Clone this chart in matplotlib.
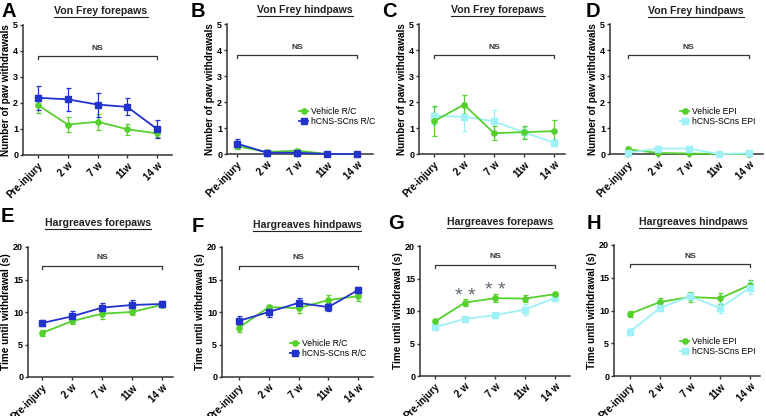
import numpy as np
import matplotlib
matplotlib.use('Agg')
import matplotlib.pyplot as plt
from matplotlib.lines import Line2D

plt.rcParams['font.family'] = ['Liberation Sans', 'DejaVu Sans']

W, H = 766, 416
fig = plt.figure(figsize=(W / 100, H / 100), dpi=100)

weeks = ["Pre-injury", "2 w", "7 w", "11w", "14 w"]

# Von Frey, R/C
vf_fore_rc_veh = [1.92, 1.17, 1.28, 0.99, 0.83]
vf_fore_rc_veh_err = [0.30, 0.29, 0.31, 0.22, 0.15]
vf_fore_rc_cell = [2.20, 2.14, 1.94, 1.85, 1.00]
vf_fore_rc_cell_err = [0.45, 0.43, 0.46, 0.33, 0.33]
vf_hind_rc_veh = [0.30, 0.08, 0.13, 0.0, 0.0]
vf_hind_rc_veh_err = [0.10, 0.05, 0.06, 0.0, 0.0]
vf_hind_rc_cell = [0.40, 0.05, 0.05, 0.0, 0.0]
vf_hind_rc_cell_err = [0.16, 0.04, 0.04, 0.0, 0.0]
# Von Frey, EPI
vf_fore_epi_veh = [1.26, 1.90, 0.80, 0.84, 0.88]
vf_fore_epi_veh_err = [0.57, 0.38, 0.28, 0.25, 0.43]
vf_fore_epi_cell = [1.47, 1.43, 1.26, 0.83, 0.44]
vf_fore_epi_cell_err = [0.35, 0.54, 0.42, 0.20, 0.12]
vf_hind_epi_veh = [0.18, 0.04, 0.02, 0.0, 0.0]
vf_hind_epi_veh_err = [0.08, 0.03, 0.02, 0.0, 0.0]
vf_hind_epi_cell = [0.05, 0.21, 0.21, 0.0, 0.03]
vf_hind_epi_cell_err = [0.05, 0.10, 0.10, 0.0, 0.03]
# Hargreaves, R/C
hg_fore_rc_veh = [6.77, 8.60, 9.74, 10.00, 11.10]
hg_fore_rc_veh_err = [0.4, 0.4, 0.8, 0.5, 0.4]
hg_fore_rc_cell = [8.30, 9.33, 10.67, 11.08, 11.23]
hg_fore_rc_cell_err = [0.5, 0.8, 0.7, 0.8, 0.5]
hg_hind_rc_veh = [7.60, 10.75, 10.60, 11.83, 12.44]
hg_hind_rc_veh_err = [0.6, 0.4, 0.7, 0.8, 0.7]
hg_hind_rc_cell = [8.64, 10.00, 11.40, 10.75, 13.37]
hg_hind_rc_cell_err = [0.7, 0.8, 0.8, 0.6, 0.5]
# Hargreaves, EPI
hg_fore_epi_veh = [8.39, 11.30, 11.97, 11.92, 12.58]
hg_fore_epi_veh_err = [0.3, 0.5, 0.6, 0.6, 0.4]
hg_fore_epi_cell = [7.52, 8.80, 9.36, 10.23, 12.00]
hg_fore_epi_cell_err = [0.3, 0.35, 0.3, 0.9, 0.4]
hg_hind_epi_veh = [9.50, 11.30, 12.06, 11.86, 13.90]
hg_hind_epi_veh_err = [0.5, 0.6, 0.7, 0.8, 0.8]
hg_hind_epi_cell = [6.77, 10.38, 12.16, 10.38, 13.50]
hg_hind_epi_cell_err = [0.5, 0.4, 0.5, 0.8, 1.0]

green, blue, cyan = "#55d02c", "#2233cc", "#9ff0f7"
dark = "#333333"

# pixel geometry: axis left, axis right, top, bottom, first tick, last tick
panels = [
    ("A", "Von Frey forepaws", (23, 172, 25, 155, 38, 157), 5,
     [(vf_fore_rc_veh, vf_fore_rc_veh_err, green, "o", "Vehicle R/C"),
      (vf_fore_rc_cell, vf_fore_rc_cell_err, blue, "s", "hCNS-SCns R/C")], None),
    ("B", "Von Frey hindpaws", (227, 373, 24, 154, 237, 357), 5,
     [(vf_hind_rc_veh, vf_hind_rc_veh_err, green, "o", "Vehicle R/C"),
      (vf_hind_rc_cell, vf_hind_rc_cell_err, blue, "s", "hCNS-SCns R/C")], (299, 107)),
    ("C", "Von Frey forepaws", (419, 565, 24, 154, 434, 554), 5,
     [(vf_fore_epi_cell, vf_fore_epi_cell_err, cyan, "s", "hCNS-SCns EPI"),
      (vf_fore_epi_veh, vf_fore_epi_veh_err, green, "o", "Vehicle EPI")], None),
    ("D", "Von Frey hindpaws", (610, 763, 24, 154, 628, 749), 5,
     [(vf_hind_epi_veh, vf_hind_epi_veh_err, green, "o", "Vehicle EPI"),
      (vf_hind_epi_cell, vf_hind_epi_cell_err, cyan, "s", "hCNS-SCns EPI")], (680, 107)),
    ("E", "Hargreaves forepaws", (28, 173, 247, 377, 42, 162), 20,
     [(hg_fore_rc_veh, hg_fore_rc_veh_err, green, "o", "Vehicle R/C"),
      (hg_fore_rc_cell, hg_fore_rc_cell_err, blue, "s", "hCNS-SCns R/C")], None),
    ("F", "Hargreaves hindpaws", (222, 373, 247, 377, 239, 358), 20,
     [(hg_hind_rc_veh, hg_hind_rc_veh_err, green, "o", "Vehicle R/C"),
      (hg_hind_rc_cell, hg_hind_rc_cell_err, blue, "s", "hCNS-SCns R/C")], (290, 339)),
    ("G", "Hargreaves forepaws", (420, 570, 246, 376, 435, 555), 20,
     [(hg_fore_epi_cell, hg_fore_epi_cell_err, cyan, "s", "hCNS-SCns EPI"),
      (hg_fore_epi_veh, hg_fore_epi_veh_err, green, "o", "Vehicle EPI")], None),
    ("H", "Hargreaves hindpaws", (614, 760, 245, 376, 630, 750), 20,
     [(hg_hind_epi_veh, hg_hind_epi_veh_err, green, "o", "Vehicle EPI"),
      (hg_hind_epi_cell, hg_hind_epi_cell_err, cyan, "s", "hCNS-SCns EPI")], (680, 337)),
]

letter_pos = {"A": (1, 2), "B": (191, 2), "C": (382, 2), "D": (586, 2),
              "E": (1, 207), "F": (192, 217), "G": (388, 214), "H": (587, 214)}
title_pos = {"A": (101, 11), "B": (305, 10), "C": (498, 10), "D": (696, 11),
             "E": (98, 223), "F": (307, 225), "G": (500, 222), "H": (693, 222)}

renderer = fig.canvas.get_renderer()
x = np.arange(len(weeks))
for letter, title, (xl, xr, yt, yb, p0, p4), ymax, series, legpos in panels:
    ax = fig.add_axes([xl / W, 1 - yb / H, (xr - xl) / W, (yb - yt) / H])
    sp = (p4 - p0) / 4.0
    ax.set_xlim(-(p0 - xl) / sp, 4 + (xr - p4) / sp)
    ax.set_ylim(0, ymax)
    handles = []
    for vals, err, col, mk, lab in series:
        ax.errorbar(x, vals, yerr=err, color=col, ecolor=col, elinewidth=0.9, capsize=1.8,
                    capthick=0.9, marker=mk, markersize=3.8, lw=1.3,
                    clip_on=False, zorder=3)
        handles.append(Line2D([], [], color=col, marker=mk, markersize=3.8, lw=1.3, label=lab))
    for s in ["top", "right"]:
        ax.spines[s].set_visible(False)
    for s in ["left", "bottom"]:
        ax.spines[s].set_linewidth(1.1)
        ax.spines[s].set_color(dark)
    ax.set_xticks(x)
    ax.set_xticklabels(weeks, rotation=45, ha="right", rotation_mode="anchor",
                       fontsize=7, fontweight="bold")
    ax.set_yticks(np.arange(0, ymax + 0.01, 1 if ymax == 5 else 5))
    ax.tick_params(axis="both", length=2.5, width=1.0, color=dark, pad=1)
    ax.tick_params(axis="x", pad=1.5)
    for t in ax.get_yticklabels():
        t.set_fontweight("bold")
        t.set_fontsize(6.5)
    ax.set_ylabel("Number of paw withdrawals" if ymax == 5 else "Time until withdrawal (s)",
                  fontsize=7.2, fontweight="bold", labelpad=1.5)
    # NS bracket
    by = 3.8 if ymax == 5 else 17.1
    dt = 0.12 * ymax / 5
    ax.plot([0, 0, 4, 4], [by - dt, by, by, by - dt], color=dark, lw=0.9, clip_on=False)
    ax.text(2, by + 0.17 * ymax / 5, "NS", ha="center", va="bottom", fontsize=6,
            fontweight="bold", color=dark)
    if legpos is not None:
        ax.legend(handles=handles, loc="upper left",
                  bbox_to_anchor=(legpos[0] / W, 1 - legpos[1] / H),
                  bbox_transform=fig.transFigure, frameon=False, fontsize=6.2,
                  handlelength=1.1, handletextpad=0.35, borderpad=0, borderaxespad=0,
                  labelspacing=0.15)
    if letter == "G":
        ax.text(1, 12.2, "* *", ha="center", va="center", fontsize=14, color="#5f6670")
        ax.text(2, 13.1, "* *", ha="center", va="center", fontsize=14, color="#5f6670")
    lx, ly = letter_pos[letter]
    fig.text(lx / W, 1 - ly / H, letter, ha="left", va="top", fontsize=14.5, fontweight="bold")
    tx, ty = title_pos[letter]
    tt = fig.text(tx / W, 1 - ty / H, title, ha="center", va="center", fontsize=7.6,
                  fontweight="bold", color="#222222")
    bb = tt.get_window_extent(renderer=renderer)
    fig.add_artist(Line2D([bb.x0 / W, bb.x1 / W], [1 - (ty + 5.5) / H] * 2,
                          color="#222222", lw=0.8))

fig.savefig("out.png", dpi=100)
